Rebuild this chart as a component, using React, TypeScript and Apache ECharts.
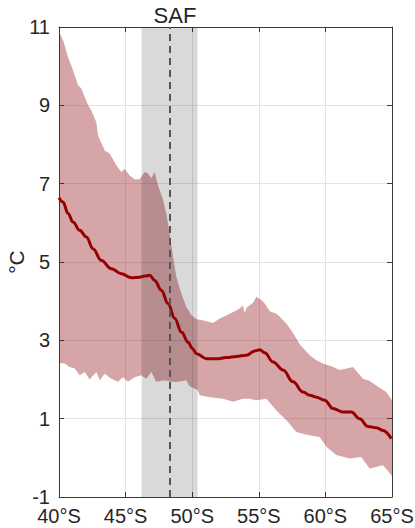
import React, { useEffect, useRef } from "react";
import * as echarts from "echarts";

// Latitude (°S) and temperature (°C) for the upper edge of the spread
const upperLat = [40.0, 40.15, 40.35, 40.68, 41.05, 41.43, 41.68, 42.18, 42.43, 42.8, 42.93, 43.43, 43.8, 44.3, 44.68, 44.93, 45.3, 45.68, 46.06, 46.43, 46.68, 46.93, 47.18, 47.43, 47.8, 48.06, 48.31, 48.56, 48.81, 49.19, 49.56, 49.94, 50.32, 50.7, 51.07, 51.56, 52.07, 52.5, 52.8, 53.2, 53.56, 53.8, 53.94, 54.1, 54.57, 54.82, 55.0, 55.2, 55.44, 55.82, 56.32, 56.57, 57.07, 57.57, 58.07, 58.82, 59.3, 59.82, 60.5, 61.07, 61.6, 62.07, 62.82, 63.3, 63.82, 64.08, 64.57, 65.0];
const upperVal = [10.85, 10.78, 10.62, 10.23, 9.9, 9.51, 9.43, 9.0, 8.87, 8.57, 8.23, 7.85, 7.77, 7.47, 7.3, 7.38, 7.21, 7.11, 7.11, 7.3, 7.26, 7.14, 7.3, 6.96, 6.6, 6.24, 5.73, 5.13, 4.62, 4.19, 3.85, 3.64, 3.54, 3.52, 3.49, 3.44, 3.56, 3.62, 3.68, 3.74, 3.81, 3.89, 3.7, 3.84, 3.96, 4.11, 4.07, 4.03, 3.94, 3.74, 3.68, 3.6, 3.43, 3.19, 2.9, 2.62, 2.5, 2.41, 2.33, 2.24, 2.28, 2.32, 2.02, 1.97, 1.85, 1.78, 1.68, 1.47];

// Lower edge of the spread
const lowerLat = [40.0, 40.43, 40.8, 41.18, 41.55, 41.93, 42.3, 42.8, 43.06, 43.43, 43.93, 44.43, 44.8, 45.18, 45.68, 46.18, 46.55, 46.93, 47.3, 47.93, 48.43, 48.93, 49.56, 49.81, 50.4, 50.57, 51.32, 52.32, 53.07, 53.8, 54.32, 54.82, 55.57, 56.32, 57.07, 57.82, 58.69, 59.57, 60.07, 60.82, 61.82, 62.69, 63.32, 64.32, 64.95, 65.0];
const lowerVal = [2.42, 2.41, 2.32, 2.28, 2.11, 2.19, 2.0, 2.19, 1.98, 2.15, 2.02, 1.94, 2.06, 1.94, 2.06, 2.11, 2.02, 2.19, 1.94, 1.98, 1.94, 1.94, 1.98, 1.83, 1.73, 1.6, 1.55, 1.51, 1.43, 1.51, 1.51, 1.47, 1.51, 1.21, 0.96, 0.66, 0.58, 0.53, 0.28, 0.07, -0.02, 0.02, -0.27, -0.19, -0.44, -0.49];

// Mean temperature
const meanLat = [40.0, 40.3, 40.68, 41.05, 41.55, 42.06, 42.55, 43.18, 43.93, 44.68, 45.44, 46.06, 46.43, 46.81, 47.18, 47.69, 48.18, 48.69, 49.19, 49.7, 50.0, 50.32, 51.07, 51.82, 52.57, 53.32, 54.07, 54.69, 55.07, 55.44, 56.07, 56.82, 57.57, 58.32, 58.82, 59.32, 59.95, 60.57, 61.32, 61.95, 62.57, 63.2, 63.83, 64.32, 64.95];
const meanVal = [6.64, 6.53, 6.24, 6.02, 5.81, 5.64, 5.34, 5.04, 4.83, 4.7, 4.6, 4.61, 4.64, 4.66, 4.53, 4.28, 3.94, 3.56, 3.21, 2.95, 2.8, 2.66, 2.53, 2.53, 2.56, 2.59, 2.62, 2.73, 2.76, 2.68, 2.45, 2.24, 1.94, 1.68, 1.6, 1.55, 1.47, 1.26, 1.17, 1.17, 1.0, 0.8, 0.77, 0.7, 0.49];

// Subantarctic Front: position and its range
const safLat = 48.3;
const safRange = [46.2, 50.4];

const xTicks = [40, 45, 50, 55, 60, 65];
const yMin = -1;
const yMax = 11;

const FONT = "Liberation Sans, Arial, Helvetica, sans-serif";
const TEXT = "#262626";

export default function App() {
  const ref = useRef<HTMLDivElement>(null);

  useEffect(() => {
    if (!ref.current) return;
    const chart = echarts.init(ref.current, undefined, { renderer: "svg" });

    const axisLine = { show: true, onZero: false, lineStyle: { color: "#3a3a3a", width: 1 } };
    const tick = { show: true, inside: true, length: 5, lineStyle: { color: "#3a3a3a", width: 1 } };

    chart.setOption({
      animation: false,
      textStyle: { fontFamily: FONT },
      grid: {
        left: 59,
        top: 27,
        width: 333,
        height: 470,
        containLabel: false,
        outerBoundsMode: "none",
      },
      xAxis: [
        {
          type: "value",
          min: xTicks[0],
          max: xTicks[xTicks.length - 1],
          interval: 5,
          position: "bottom",
          axisLine,
          axisTick: tick,
          axisLabel: {
            formatter: (v: number) => `${v}°S`,
            color: TEXT,
            fontSize: 20,
            fontFamily: FONT,
            margin: 9,
          },
          splitLine: { show: true, lineStyle: { color: "#e3e3e3", width: 1 } },
        },
        {
          type: "value",
          min: xTicks[0],
          max: xTicks[xTicks.length - 1],
          interval: 5,
          position: "top",
          axisLine,
          axisTick: tick,
          axisLabel: { show: false },
          splitLine: { show: false },
        },
      ],
      yAxis: [
        {
          type: "value",
          min: yMin,
          max: yMax,
          interval: 2,
          position: "left",
          name: "°C",
          nameLocation: "middle",
          nameGap: 32,
          nameMoveOverlap: false,
          nameTextStyle: { color: TEXT, fontSize: 21, fontFamily: FONT },
          axisLine,
          axisTick: tick,
          axisLabel: { color: TEXT, fontSize: 20, fontFamily: FONT, margin: 9 },
          splitLine: { show: true, lineStyle: { color: "#e3e3e3", width: 1 } },
        },
        {
          type: "value",
          min: yMin,
          max: yMax,
          interval: 2,
          position: "right",
          axisLine,
          axisTick: tick,
          axisLabel: { show: false },
          splitLine: { show: false },
        },
      ],
      graphic: [
        {
          type: "text",
          x: 175,
          y: 15,
          style: {
            text: "SAF",
            fill: TEXT,
            fontSize: 22,
            fontFamily: FONT,
            textAlign: "center",
            textVerticalAlign: "middle",
          },
        },
      ],
      series: [
        {
          // spread between lower and upper edges
          type: "custom",
          z: 1,
          data: [[upperLat[0], upperVal[0]]],
          renderItem: (_params: any, api: any) => {
            const pts: number[][] = [];
            for (let i = 0; i < upperLat.length; i++) pts.push(api.coord([upperLat[i], upperVal[i]]));
            for (let i = lowerLat.length - 1; i >= 0; i--) pts.push(api.coord([lowerLat[i], lowerVal[i]]));
            return {
              type: "polygon",
              shape: { points: pts },
              style: { fill: "rgba(145,12,16,0.37)", stroke: "none" },
            };
          },
        },
        {
          // SAF range and position
          type: "custom",
          z: 2,
          data: [[safRange[0], yMin]],
          renderItem: (_params: any, api: any) => {
            const p0 = api.coord([safRange[0], yMax]);
            const p1 = api.coord([safRange[1], yMin]);
            return {
              type: "rect",
              shape: { x: p0[0], y: p0[1], width: p1[0] - p0[0], height: p1[1] - p0[1] },
              style: { fill: "rgba(0,0,0,0.15)" },
            };
          },
          markLine: {
            silent: true,
            symbol: "none",
            label: { show: false },
            lineStyle: { type: [7, 5], color: "#555555", width: 2 },
            data: [{ xAxis: safLat }],
          },
        },
        {
          type: "line",
          z: 3,
          data: meanLat.map((lat, i) => [lat, meanVal[i]]),
          showSymbol: false,
          smooth: 0.4,
          smoothMonotone: "x",
          lineStyle: { color: "#960000", width: 3 },
        },
      ],
    });

    return () => chart.dispose();
  }, []);

  return <div ref={ref} style={{ width: 415, height: 528, position: "absolute", left: 0, top: 0 }} />;
}
